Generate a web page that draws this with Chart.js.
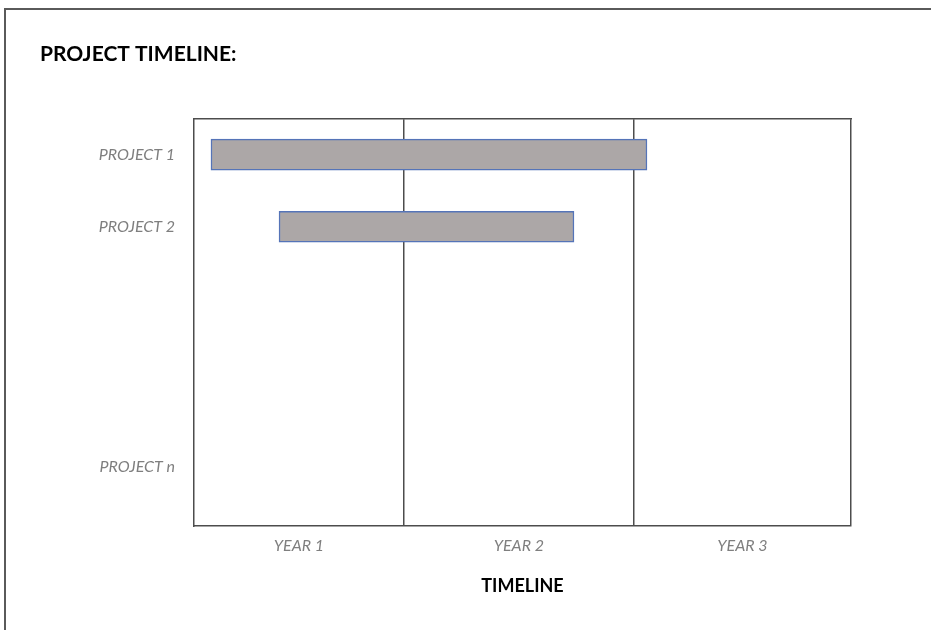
<!DOCTYPE html>
<html lang="en">
<head>
  <meta charset="UTF-8" />
  <title>Project Timeline</title>
  <script src="https://cdn.jsdelivr.net/npm/chart.js"></script>
  <style>
    body {
      margin: 0;
      background-color: #ffffff;
    }
    .frame {
      position: absolute;
      left: 4px;
      top: 8px;
      width: 940px;
      height: 640px;
      border-top: 2px solid #5a5a5a;
      border-left: 2px solid #5a5a5a;
    }
    #timelineChart {
      position: absolute;
      left: 0;
      top: 0;
    }
  </style>
</head>
<body>

<div class="frame"></div>
<canvas id="timelineChart" width="931" height="630"></canvas>

<script>
  // Rows (y positions in row units) and their labels
  const projects = ['PROJECT 1', 'PROJECT 2', 'PROJECT n'];
  const rowPos = [1, 2, 5.33];

  // Bars, in months from the start of the timeline
  const startMonth = [0.93, 4.66];
  const endMonth = [24.82, 20.82];

  // Year columns (boundaries in months)
  const years = ['YEAR 1', 'YEAR 2', 'YEAR 3'];
  const yearEdges = [0, 11.5, 24.1, 36];

  const lineColor = '#4d4d4d';
  const textGray = '#7f7f7f';

  const yearMids = years.map((y, i) => (yearEdges[i] + yearEdges[i + 1]) / 2);

  const bars = startMonth.map((s, i) => ({ x: [s, endMonth[i]], y: rowPos[i] }));

  new Chart(document.getElementById('timelineChart'), {
    type: 'bar',
    data: {
      datasets: [{
        data: bars,
        backgroundColor: '#aca7a7',
        borderColor: '#5574b8',
        borderWidth: 1.5,
        borderSkipped: false,
        barThickness: 31
      }]
    },
    options: {
      responsive: false,
      animation: false,
      indexAxis: 'y',
      layout: { padding: { left: 40, right: 80, top: 42, bottom: 33 } },
      plugins: {
        legend: { display: false },
        tooltip: { enabled: false },
        title: {
          display: true,
          text: 'PROJECT TIMELINE:',
          align: 'start',
          color: '#000000',
          font: { family: 'Lato', size: 21, weight: 'bold' },
          padding: { top: 0, bottom: 44 }
        }
      },
      scales: {
        x: {
          type: 'linear',
          min: yearEdges[0],
          max: yearEdges[yearEdges.length - 1],
          z: 1,
          afterBuildTicks: (axis) => {
            axis.ticks = yearEdges.concat(yearMids).sort((a, b) => a - b).map(v => ({ value: v }));
          },
          grid: {
            drawTicks: false,
            lineWidth: 1.5,
            color: (ctx) => {
              const v = ctx.tick ? ctx.tick.value : null;
              return (v !== null && v !== yearEdges[0] && yearEdges.includes(v)) ? lineColor : 'rgba(0,0,0,0)';
            }
          },
          border: { display: true, color: lineColor, width: 1.5 },
          ticks: {
            autoSkip: false,
            maxRotation: 0,
            padding: 10,
            color: textGray,
            font: { family: 'Lato', size: 16, style: 'italic' },
            callback: (v) => {
              const i = yearMids.indexOf(v);
              return i >= 0 ? years[i] : '';
            }
          },
          title: {
            display: true,
            text: 'TIMELINE',
            color: '#000000',
            font: { family: 'Lato', size: 18, weight: 'bold' },
            padding: { top: 10, bottom: 0 }
          }
        },
        xTop: {
          type: 'linear',
          position: 'top',
          axis: 'x',
          min: yearEdges[0],
          max: yearEdges[yearEdges.length - 1],
          grid: { display: false },
          ticks: { display: false },
          border: { display: true, color: lineColor, width: 1.5 }
        },
        y: {
          type: 'linear',
          reverse: true,
          offset: false,
          min: 0.51,
          max: 6.15,
          afterFit: (axis) => { axis.width = 154; },
          afterBuildTicks: (axis) => {
            axis.ticks = rowPos.map(v => ({ value: v }));
          },
          grid: { display: false, drawTicks: false },
          border: { display: true, color: lineColor, width: 1.5 },
          ticks: {
            autoSkip: false,
            padding: 19,
            color: textGray,
            font: { family: 'Lato', size: 16, style: 'italic' },
            callback: (v) => {
              const i = rowPos.indexOf(v);
              return i >= 0 ? projects[i] : '';
            }
          }
        }
      }
    }
  });
</script>

</body>
</html>
